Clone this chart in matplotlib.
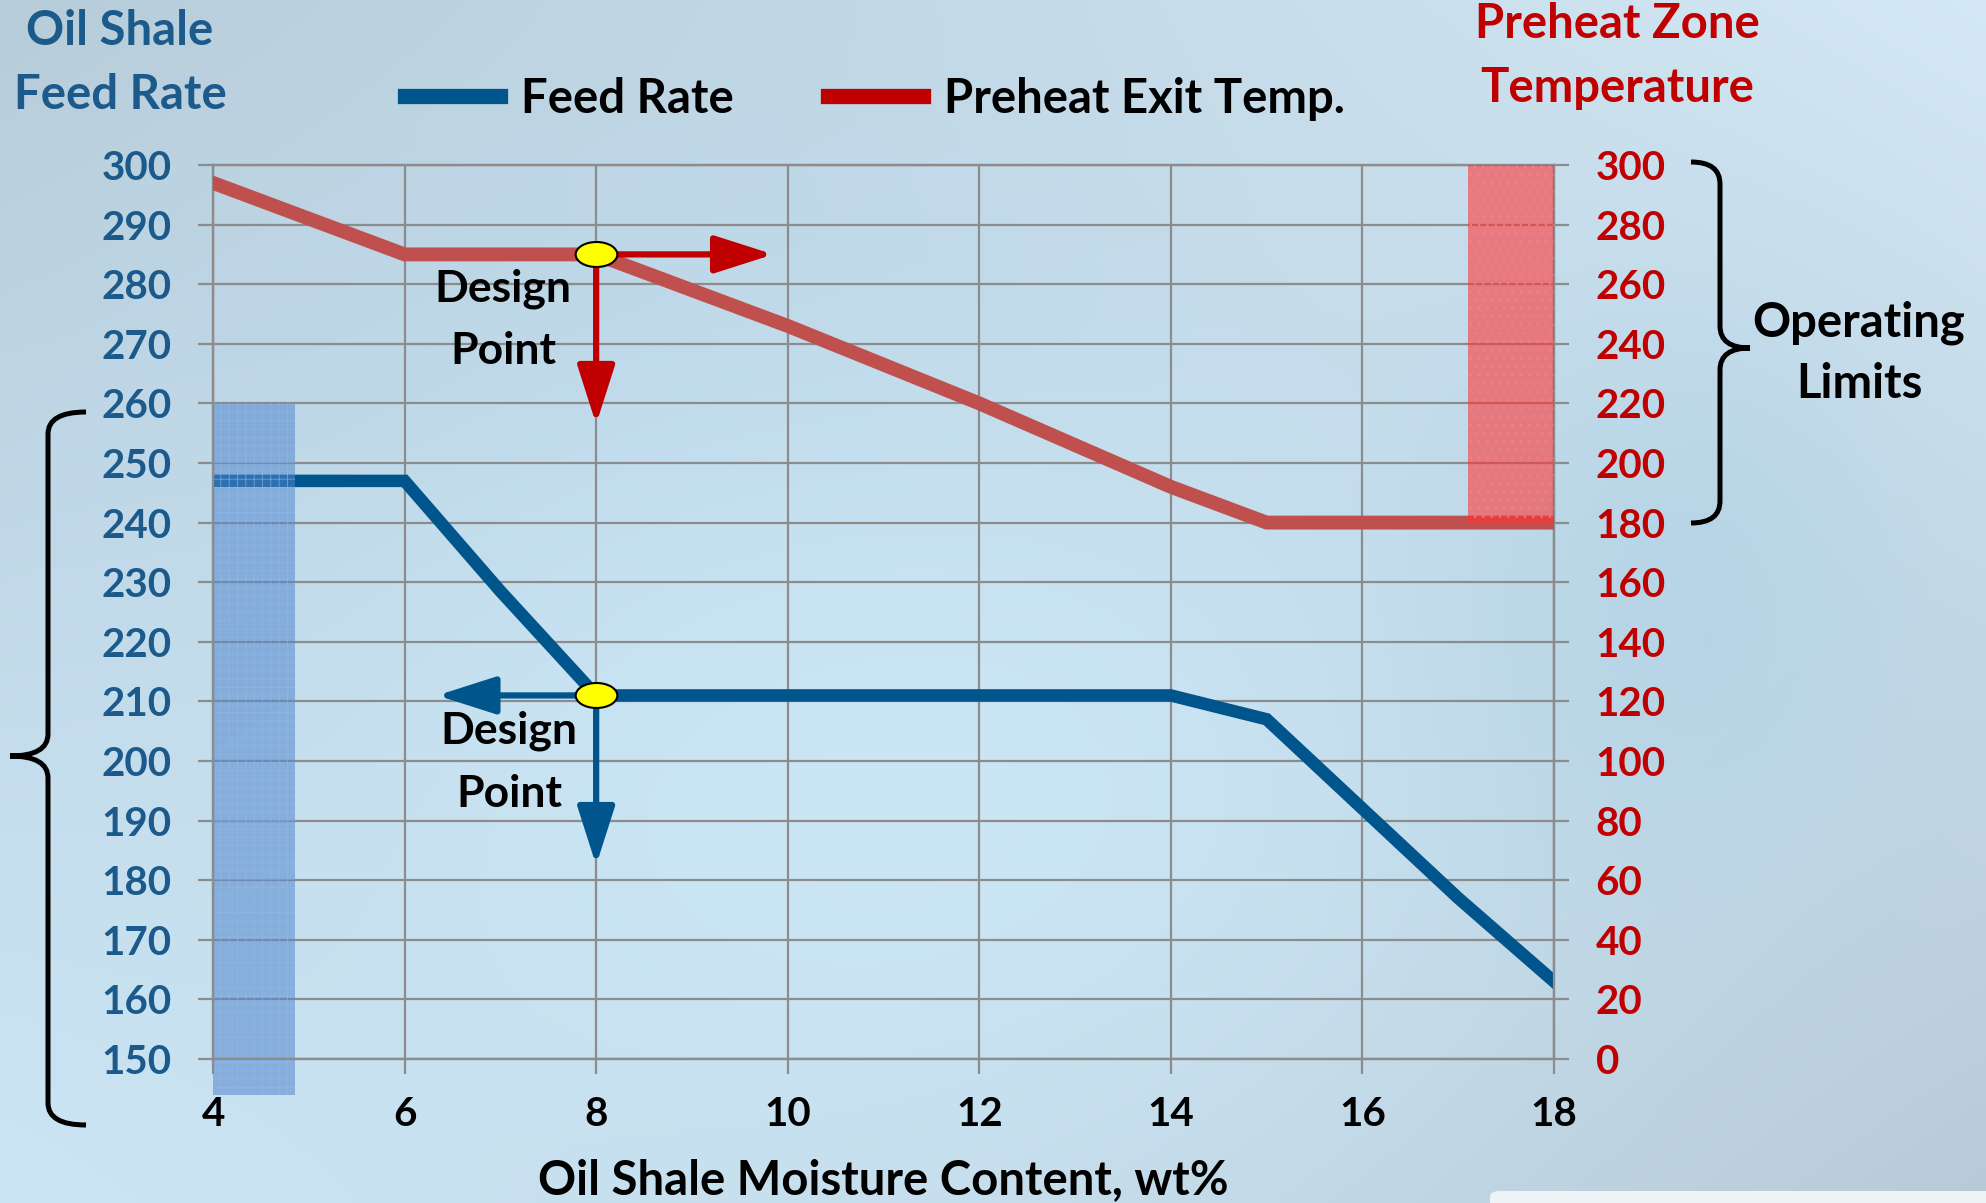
import numpy as np
import matplotlib.pyplot as plt
from matplotlib.patches import Rectangle, PathPatch, FancyBboxPatch
from matplotlib.path import Path
from matplotlib.lines import Line2D
from matplotlib.transforms import Affine2D

plt.rcParams['font.family'] = ['Lato', 'DejaVu Sans']
plt.rcParams['font.weight'] = 'bold'
plt.rcParams['hatch.linewidth'] = 0.6

# ==========================================================
# Data
# ==========================================================

feed_x = [4, 6, 7, 8, 14, 15, 16, 17, 18]
feed_rate = [247, 247, 228.5, 211, 211, 207, 192, 177, 163]

temp_x = [4, 6, 8, 9, 10, 11, 12, 13, 14, 15, 18]
preheat_temp = [294, 270, 270, 258, 246, 233, 220, 206, 192, 180, 180]

x_ticks = [4, 6, 8, 10, 12, 14, 16, 18]
left_ticks = list(range(150, 301, 10))
right_ticks = list(range(0, 301, 20))

# shaded operating limit bands: (x0, x1, y0, y1)
feed_band = (4, 4.86, 144, 260)
temp_band = (17.1, 18, 180, 300)

# design points and arrow tips
design_x = 8
design_feed = 211
design_temp = 270
feed_arrow_left = 6.34
feed_arrow_down = 182.5
temp_arrow_right = 9.85
temp_arrow_down = 213

BLUE = "#00558C"
LABEL_BLUE = "#1B5A8A"
RED_LINE = "#C0504D"
RED = "#C00000"
GRID = "#8C8C8C"

W, H = 1986, 1203

fig = plt.figure(figsize=(W / 100, H / 100), dpi=100)

# ==========================================================
# Background gradient
# ==========================================================

bg = fig.add_axes([0, 0, 1, 1], zorder=-10)
gy, gx = np.mgrid[0:1:200j, 0:1:330j]
tl = np.array([0.72, 0.80, 0.85])
tr = np.array([0.83, 0.91, 0.96])
bl = np.array([0.80, 0.90, 0.96])
br = np.array([0.72, 0.79, 0.84])
img = (tl * ((1 - gx) * (1 - gy))[..., None] + tr * (gx * (1 - gy))[..., None]
       + bl * ((1 - gx) * gy)[..., None] + br * (gx * gy)[..., None])
wash = np.exp(-(((gx - 0.35) / 0.3) ** 2 + ((gy - 0.35) / 0.3) ** 2))
img = img + (np.array([0.70, 0.82, 0.90]) - img) * wash[..., None] * 0.5
glow = np.exp(-(((gx - 0.45) / 0.33) ** 2 + ((gy - 0.66) / 0.38) ** 2))
img = img + (np.array([0.80, 0.91, 0.97]) - img) * glow[..., None] * 0.85
band = np.exp(-(((gx - 0.85) / 0.12) ** 2 + ((gy - 0.5) / 0.25) ** 2))
img = img + (np.array([0.68, 0.82, 0.90]) - img) * band[..., None] * 0.6
bg.imshow(np.clip(img, 0, 1), aspect="auto", extent=[0, 1, 0, 1], interpolation="bicubic")
bg.axis("off")
bg.add_patch(FancyBboxPatch((1490 / W, -0.02), 0.6, 0.02 + 12 / H,
                            boxstyle="round,pad=0,rounding_size=0.005",
                            transform=bg.transAxes, facecolor="#EEF3F6", edgecolor="none"))

# ==========================================================
# Axes
# ==========================================================

ax = fig.add_axes([213 / W, 1 - 1059 / H, (1554 - 213) / W, (1059 - 165) / H])
ax.set_facecolor("none")
ax2 = ax.twinx()
ax2.set_facecolor("none")

ax.set_xlim(4, 18)
ax.set_ylim(150, 300)
ax2.set_ylim(0, 300)

ax.set_xticks(x_ticks)
ax.set_yticks(left_ticks)
ax2.set_yticks(right_ticks)

ax.grid(True, color=GRID, lw=1.6, zorder=0)
ax.set_axisbelow(True)

for a in (ax, ax2):
    for s in a.spines.values():
        s.set_color(GRID)
        s.set_linewidth(1.6)

ax.tick_params(axis="y", direction="out", length=11, width=1.6, color=GRID,
               labelsize=29, labelcolor=LABEL_BLUE, pad=19)
ax.tick_params(axis="x", direction="out", length=11, width=1.6, color=GRID,
               labelsize=29, labelcolor="black", pad=16)
ax2.tick_params(axis="y", direction="out", length=11, width=1.6, color=GRID,
                labelsize=29, labelcolor=RED, pad=19)

# ==========================================================
# Lines and bands
# ==========================================================

feed_line, = ax.plot(feed_x, feed_rate, color=BLUE, lw=9, solid_joinstyle="miter",
                     zorder=3, label="Feed Rate")
temp_line, = ax2.plot(temp_x, preheat_temp, color=RED_LINE, lw=10, solid_joinstyle="miter",
                      zorder=3, label="Preheat Exit Temp.")

ax.add_patch(Rectangle((feed_band[0], feed_band[2]), feed_band[1] - feed_band[0],
                       feed_band[3] - feed_band[2], facecolor=(0.33, 0.53, 0.80, 0.55),
                       edgecolor=(0.55, 0.72, 0.92, 0.7), lw=0, hatch="++",
                       clip_on=False, zorder=4))
ax2.add_patch(Rectangle((temp_band[0], temp_band[2]), temp_band[1] - temp_band[0],
                        temp_band[3] - temp_band[2], facecolor=(1.0, 0.2, 0.2, 0.58),
                        edgecolor=(1.0, 0.5, 0.5, 0.7), lw=0, hatch="..",
                        clip_on=False, zorder=4))

# ==========================================================
# Design points
# ==========================================================

arrow_style = "-|>,head_length=3.6,head_width=1.15"
for a, tip, col in [(ax2, (temp_arrow_right, design_temp), RED),
                    (ax2, (design_x, temp_arrow_down), RED),
                    (ax, (feed_arrow_left, design_feed), BLUE),
                    (ax, (design_x, feed_arrow_down), BLUE)]:
    start = (design_x, design_temp) if a is ax2 else (design_x, design_feed)
    a.annotate("", xy=tip, xytext=start,
               arrowprops=dict(arrowstyle=arrow_style, color=col, lw=4.5,
                               shrinkA=0, shrinkB=0, mutation_scale=10),
               zorder=5)

ellipse = Path.unit_circle().transformed(Affine2D().scale(1.0, 0.6))
ax2.plot([design_x], [design_temp], marker=ellipse, ms=30, mfc="#FFFF00",
         mec="black", mew=1.5, zorder=6, clip_on=False)
ax.plot([design_x], [design_feed], marker=ellipse, ms=30, mfc="#FFFF00",
        mec="black", mew=1.5, zorder=6, clip_on=False)

ax2.text(7.03, 258.5, "Design", fontsize=32, ha="center", va="center", zorder=7)
ax2.text(7.03, 237.5, "Point", fontsize=32, ha="center", va="center", zorder=7)
ax.text(7.09, 205, "Design", fontsize=32, ha="center", va="center", zorder=7)
ax.text(7.09, 194.5, "Point", fontsize=32, ha="center", va="center", zorder=7)

# ==========================================================
# Titles, legend, labels
# ==========================================================

fig.text(120 / W, 1 - 31 / H, "Oil Shale", fontsize=34, color=LABEL_BLUE, ha="center", va="center")
fig.text(120 / W, 1 - 95 / H, "Feed Rate", fontsize=34, color=LABEL_BLUE, ha="center", va="center")
fig.text(1617 / W, 1 - 24 / H, "Preheat Zone", fontsize=34, color=RED, ha="center", va="center")
fig.text(1617 / W, 1 - 88 / H, "Temperature", fontsize=34, color=RED, ha="center", va="center")
fig.text(883 / W, 1 - 1180 / H, "Oil Shale Moisture Content, wt%", fontsize=34,
         ha="center", va="center")
fig.text(1859 / W, 1 - 323 / H, "Operating", fontsize=34, ha="center", va="center")
fig.text(1859 / W, 1 - 384 / H, "Limits", fontsize=34, ha="center", va="center")

handles = [Line2D([], [], color=BLUE, lw=11), Line2D([], [], color=RED, lw=11)]
fig.legend(handles, ["Feed Rate", "Preheat Exit Temp."], loc="center",
           bbox_to_anchor=(875 / W, 1 - 99 / H), ncol=2, frameon=False,
           fontsize=34, handlelength=2.0, handletextpad=0.45, columnspacing=2.0)

# ==========================================================
# Curly braces
# ==========================================================


def brace(x_end, x_spine, x_tip, y_top, y_mid, y_bot, r=22):
    pts = [(x_end, y_top), (x_spine, y_top), (x_spine, y_top + r),
           (x_spine, y_mid - r), (x_spine, y_mid), (x_tip, y_mid),
           (x_spine, y_mid), (x_spine, y_mid + r),
           (x_spine, y_bot - r), (x_spine, y_bot), (x_end, y_bot)]
    codes = [Path.MOVETO, Path.CURVE3, Path.CURVE3, Path.LINETO, Path.CURVE3, Path.CURVE3,
             Path.CURVE3, Path.CURVE3, Path.LINETO, Path.CURVE3, Path.CURVE3]
    pts = [(px / W, 1 - py / H) for px, py in pts]
    fig.add_artist(PathPatch(Path(pts, codes), transform=fig.transFigure,
                             facecolor="none", edgecolor="black", lw=3.6,
                             capstyle="butt", joinstyle="miter"))


brace(86, 48, 10, 412, 756, 1125)
brace(1691, 1720, 1750, 162, 348, 523)

fig.savefig("out.png", dpi=100)
